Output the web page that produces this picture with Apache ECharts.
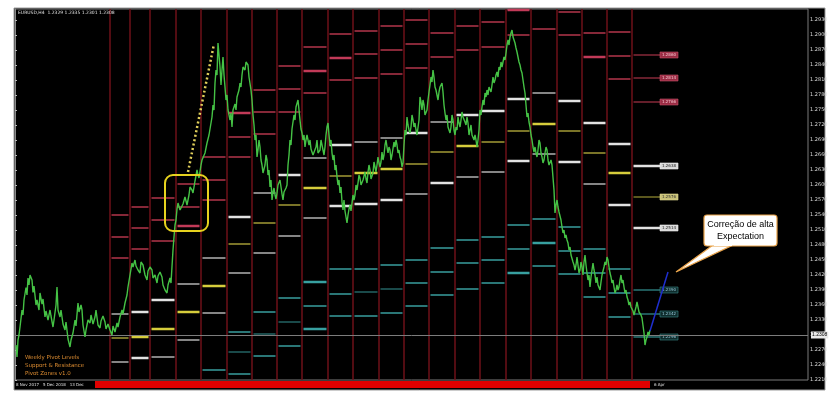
<!DOCTYPE html>
<html><head><meta charset="utf-8">
<script src="https://cdn.jsdelivr.net/npm/echarts@6/dist/echarts.min.js"></script>
<style>html,body{margin:0;padding:0;background:#fff}#c{width:838px;height:400px}</style>
</head><body><div id="c"></div>
<script>
// ---- price path: [bar index, close] ----
const pricePath = [
[1,1.2280],[2,1.2256],[3,1.2290],[4,1.2300],[5,1.2316],[7,1.2350],[8,1.2340],[9,1.2370],[11,1.2395],[12,1.2380],[13,1.2414],[14,1.2400],[15,1.2420],[17,1.2410],[18,1.2385],[19,1.2398],[21,1.2360],[22,1.2370],[24,1.2350],[25,1.2384],[27,1.2362],[28,1.2372],[30,1.2336],[31,1.2348],[33,1.2330],[35,1.2350],[36,1.2338],[38,1.2316],[39,1.2330],[41,1.2360],[42,1.2396],[43,1.2350],[45,1.2336],[46,1.2350],[48,1.2322],[50,1.2310],[51,1.2326],[53,1.2292],[55,1.2276],[56,1.2290],[58,1.2304],[60,1.2330],[61,1.2318],[63,1.2364],[64,1.2346],[66,1.2360],[67,1.2350],[68,1.2320],[70,1.2296],[71,1.2310],[73,1.2330],[75,1.2324],[76,1.2340],[78,1.2322],[80,1.2336],[81,1.2350],[83,1.2320],[85,1.2314],[86,1.2328],[88,1.2338],[90,1.2326],[91,1.2312],[93,1.2322],[95,1.2310],[97,1.2300],[98,1.2318],[100,1.2306],[102,1.2324],[103,1.2316],[105,1.2336],[107,1.2350],[108,1.2342],[110,1.2364],[112,1.2380],[113,1.2396],[115,1.2420],[117,1.2444],[118,1.2436],[120,1.2450],[121,1.2438],[123,1.2430],[125,1.2424],[126,1.2446],[128,1.2440],[130,1.2420],[132,1.2410],[133,1.2428],[135,1.2436],[137,1.2430],[138,1.2414],[140,1.2420],[142,1.2404],[143,1.2418],[145,1.2426],[147,1.2416],[148,1.2400],[150,1.2390],[152,1.2384],[153,1.2400],[155,1.2414],[156,1.2404],[158,1.2470],[159,1.2496],[160,1.2520],[161,1.2530],[162,1.2552],[163,1.2564],[165,1.2550],[167,1.2546],[168,1.2562],[170,1.2576],[171,1.2568],[172,1.2560],[174,1.2580],[175,1.2596],[177,1.2590],[178,1.2584],[180,1.2608],[182,1.2630],[183,1.2620],[184,1.2614],[186,1.2640],[187,1.2650],[189,1.2646],[190,1.2664],[192,1.2684],[194,1.2700],[195,1.2696],[197,1.2736],[198,1.2760],[199,1.2750],[200,1.2804],[201,1.2830],[202,1.2820],[203,1.2884],[204,1.2860],[205,1.2836],[206,1.2800],[207,1.2830],[208,1.2856],[209,1.2820],[210,1.2796],[211,1.2770],[212,1.2780],[213,1.2750],[215,1.2730],[216,1.2744],[217,1.2716],[218,1.2750],[220,1.2762],[221,1.2750],[222,1.2776],[224,1.2790],[225,1.2804],[226,1.2796],[227,1.2820],[228,1.2836],[230,1.2830],[231,1.2846],[232,1.2850],[233,1.2840],[234,1.2816],[236,1.2790],[237,1.2770],[238,1.2740],[239,1.2720],[240,1.2690],[241,1.2700],[242,1.2656],[243,1.2670],[244,1.2690],[245,1.2676],[246,1.2650],[247,1.2640],[248,1.2624],[250,1.2640],[251,1.2660],[252,1.2650],[253,1.2620],[254,1.2630],[255,1.2596],[256,1.2610],[257,1.2570],[258,1.2586],[259,1.2594],[260,1.2580],[261,1.2572],[262,1.2584],[263,1.2600],[265,1.2610],[266,1.2596],[267,1.2582],[268,1.2570],[269,1.2586],[271,1.2594],[272,1.2600],[273,1.2640],[274,1.2660],[275,1.2690],[276,1.2680],[277,1.2712],[279,1.2740],[280,1.2730],[281,1.2756],[283,1.2770],[284,1.2750],[285,1.2730],[286,1.2712],[287,1.2704],[288,1.2690],[289,1.2700],[290,1.2676],[291,1.2690],[292,1.2700],[294,1.2680],[295,1.2690],[296,1.2672],[298,1.2660],[300,1.2656],[301,1.2676],[302,1.2690],[303,1.2664],[305,1.2670],[306,1.2690],[307,1.2680],[309,1.2660],[310,1.2676],[311,1.2700],[312,1.2716],[313,1.2724],[314,1.2700],[315,1.2680],[316,1.2690],[317,1.2664],[318,1.2650],[319,1.2660],[320,1.2630],[321,1.2640],[322,1.2616],[323,1.2600],[324,1.2610],[325,1.2584],[326,1.2596],[327,1.2566],[328,1.2550],[329,1.2570],[330,1.2548],[331,1.2536],[332,1.2524],[333,1.2540],[334,1.2552],[335,1.2560],[336,1.2548],[337,1.2564],[338,1.2580],[339,1.2570],[340,1.2580],[341,1.2600],[342,1.2590],[343,1.2604],[344,1.2620],[345,1.2614],[346,1.2600],[347,1.2596],[348,1.2610],[350,1.2626],[351,1.2612],[352,1.2604],[353,1.2626],[354,1.2640],[355,1.2630],[356,1.2612],[357,1.2618],[358,1.2624],[359,1.2646],[360,1.2636],[361,1.2626],[362,1.2640],[363,1.2656],[364,1.2644],[365,1.2636],[366,1.2646],[367,1.2666],[368,1.2650],[369,1.2660],[370,1.2680],[371,1.2690],[372,1.2676],[373,1.2664],[374,1.2676],[375,1.2670],[376,1.2650],[377,1.2660],[378,1.2664],[379,1.2686],[380,1.2676],[381,1.2690],[382,1.2680],[383,1.2664],[384,1.2670],[385,1.2656],[386,1.2650],[387,1.2636],[388,1.2644],[389,1.2680],[390,1.2710],[391,1.2700],[392,1.2736],[393,1.2720],[394,1.2710],[395,1.2704],[396,1.2716],[397,1.2740],[398,1.2730],[399,1.2716],[400,1.2724],[401,1.2710],[402,1.2700],[403,1.2704],[404,1.2730],[405,1.2776],[406,1.2766],[407,1.2750],[408,1.2770],[409,1.2760],[410,1.2740],[411,1.2736],[412,1.2750],[413,1.2770],[414,1.2786],[415,1.2800],[416,1.2816],[417,1.2806],[418,1.2830],[419,1.2816],[420,1.2796],[421,1.2790],[422,1.2780],[423,1.2770],[424,1.2786],[425,1.2796],[427,1.2804],[428,1.2786],[429,1.2760],[430,1.2744],[431,1.2730],[432,1.2740],[433,1.2716],[434,1.2720],[435,1.2704],[436,1.2716],[437,1.2740],[438,1.2730],[439,1.2710],[440,1.2700],[441,1.2716],[442,1.2710],[443,1.2736],[444,1.2724],[445,1.2716],[446,1.2730],[447,1.2746],[448,1.2736],[449,1.2740],[450,1.2726],[451,1.2720],[452,1.2736],[453,1.2724],[454,1.2700],[455,1.2710],[456,1.2720],[457,1.2700],[458,1.2696],[459,1.2690],[460,1.2700],[461,1.2690],[462,1.2676],[463,1.2690],[464,1.2710],[465,1.2750],[466,1.2740],[467,1.2756],[468,1.2770],[469,1.2760],[470,1.2784],[471,1.2776],[472,1.2790],[473,1.2780],[474,1.2796],[476,1.2786],[477,1.2800],[478,1.2816],[479,1.2804],[480,1.2810],[481,1.2820],[482,1.2826],[483,1.2816],[484,1.2836],[485,1.2830],[486,1.2846],[487,1.2836],[488,1.2846],[489,1.2856],[490,1.2850],[491,1.2864],[492,1.2880],[493,1.2890],[494,1.2880],[495,1.2896],[496,1.2904],[497,1.2910],[498,1.2896],[499,1.2900],[500,1.2884],[501,1.2874],[502,1.2866],[503,1.2856],[504,1.2846],[505,1.2840],[506,1.2830],[507,1.2824],[508,1.2810],[509,1.2796],[510,1.2784],[511,1.2760],[512,1.2736],[513,1.2744],[514,1.2726],[515,1.2716],[516,1.2700],[517,1.2690],[518,1.2676],[519,1.2666],[520,1.2676],[521,1.2664],[522,1.2656],[523,1.2670],[524,1.2690],[525,1.2684],[526,1.2664],[527,1.2656],[528,1.2644],[529,1.2650],[530,1.2664],[531,1.2676],[532,1.2670],[533,1.2650],[534,1.2640],[535,1.2644],[536,1.2650],[537,1.2640],[538,1.2636],[539,1.2590],[540,1.2544],[541,1.2560],[542,1.2570],[543,1.2556],[544,1.2546],[545,1.2550],[546,1.2530],[547,1.2516],[548,1.2504],[549,1.2510],[550,1.2494],[551,1.2500],[552,1.2490],[553,1.2484],[554,1.2470],[555,1.2476],[556,1.2460],[557,1.2456],[558,1.2446],[559,1.2440],[560,1.2430],[561,1.2440],[562,1.2456],[563,1.2440],[564,1.2424],[565,1.2430],[566,1.2446],[567,1.2436],[568,1.2420],[569,1.2446],[570,1.2460],[571,1.2440],[572,1.2424],[573,1.2410],[574,1.2420],[575,1.2396],[576,1.2416],[577,1.2430],[578,1.2444],[579,1.2430],[580,1.2420],[581,1.2404],[582,1.2416],[583,1.2400],[584,1.2396],[585,1.2390],[586,1.2406],[587,1.2420],[588,1.2424],[589,1.2436],[590,1.2446],[591,1.2440],[592,1.2456],[593,1.2450],[594,1.2436],[595,1.2424],[596,1.2416],[597,1.2404],[598,1.2410],[599,1.2396],[600,1.2384],[601,1.2390],[602,1.2400],[603,1.2390],[604,1.2396],[605,1.2410],[606,1.2420],[607,1.2404],[608,1.2410],[609,1.2396],[610,1.2384],[611,1.2390],[612,1.2376],[613,1.2370],[614,1.2360],[615,1.2366],[616,1.2356],[618,1.2348],[619,1.2340],[620,1.2344],[621,1.2356],[622,1.2366],[623,1.2356],[624,1.2346],[625,1.2350],[626,1.2340],[627,1.2334],[628,1.2330],[629,1.2304],[630,1.2280],[631,1.2290],[632,1.2296],[633,1.2306],[634,1.2300],[635,1.2310]
];

// ---- weekly pivot columns ----
const columnEdges = [95,115,135,161,186,212,237,262,287,313,338,364,389,414,440,465,491,516,542,567,592,617];
// level kinds: r = resistance, R = strong resistance, w/g = pivot bands, y/o = central pivot, t/T/d = supports
const columnLevels = [
 [[1.2540,'r'],[1.2496,'r'],[1.2454,'r'],[1.2342,'g'],[1.2294,'o'],[1.2246,'g']],
 [[1.2556,'r'],[1.2514,'r'],[1.2472,'r'],[1.2346,'w'],[1.2296,'y'],[1.2254,'w']],
 [[1.2574,'r'],[1.2530,'r'],[1.2488,'r'],[1.2370,'w'],[1.2312,'y'],[1.2256,'g']],
 [[1.2602,'r'],[1.2556,'r'],[1.2518,'R'],[1.2402,'g'],[1.2346,'y'],[1.2290,'g']],
 [[1.2656,'r'],[1.2610,'r'],[1.2570,'r'],[1.2454,'g'],[1.2398,'y'],[1.2344,'g'],[1.2230,'t']],
 [[1.2744,'R'],[1.2696,'r'],[1.2656,'r'],[1.2536,'w'],[1.2482,'o'],[1.2424,'g'],[1.2306,'t'],[1.2266,'d'],[1.2222,'t']],
 [[1.2790,'r'],[1.2746,'r'],[1.2702,'r'],[1.2584,'g'],[1.2524,'o'],[1.2464,'g'],[1.2346,'t'],[1.2302,'d'],[1.2258,'t']],
 [[1.2838,'r'],[1.2792,'r'],[1.2746,'r'],[1.2620,'w'],[1.2560,'o'],[1.2498,'g'],[1.2374,'t'],[1.2326,'d'],[1.2278,'t']],
 [[1.2876,'r'],[1.2828,'R'],[1.2784,'r'],[1.2654,'g'],[1.2594,'y'],[1.2534,'g'],[1.2406,'T'],[1.2358,'t'],[1.2312,'T']],
 [[1.2902,'r'],[1.2854,'R'],[1.2810,'r'],[1.2680,'w'],[1.2618,'o'],[1.2558,'w'],[1.2432,'t'],[1.2382,'t'],[1.2338,'t']],
 [[1.2908,'r'],[1.2862,'r'],[1.2814,'r'],[1.2686,'g'],[1.2624,'y'],[1.2562,'w'],[1.2432,'t'],[1.2386,'d'],[1.2338,'t']],
 [[1.2918,'r'],[1.2870,'r'],[1.2822,'r'],[1.2694,'g'],[1.2632,'y'],[1.2570,'w'],[1.2440,'t'],[1.2392,'d'],[1.2344,'t']],
 [[1.2930,'r'],[1.2882,'r'],[1.2834,'r'],[1.2704,'w'],[1.2642,'o'],[1.2582,'g'],[1.2450,'t'],[1.2404,'t'],[1.2358,'t']],
 [[1.2904,'r'],[1.2856,'r'],[1.2726,'g'],[1.2666,'o'],[1.2604,'w'],[1.2474,'t'],[1.2426,'t'],[1.2380,'t']],
 [[1.2918,'r'],[1.2870,'r'],[1.2740,'w'],[1.2678,'y'],[1.2616,'g'],[1.2490,'t'],[1.2444,'t'],[1.2392,'t']],
 [[1.2926,'r'],[1.2876,'r'],[1.2748,'w'],[1.2686,'o'],[1.2626,'g'],[1.2496,'t'],[1.2450,'t'],[1.2404,'t']],
 [[1.2950,'R'],[1.2900,'r'],[1.2772,'w'],[1.2708,'o'],[1.2648,'w'],[1.2520,'t'],[1.2472,'t'],[1.2424,'T']],
 [[1.2912,'r'],[1.2784,'g'],[1.2722,'y'],[1.2662,'g'],[1.2532,'t'],[1.2484,'T'],[1.2438,'t']],
 [[1.2946,'r'],[1.2900,'r'],[1.2768,'w'],[1.2708,'o'],[1.2646,'w'],[1.2516,'t'],[1.2468,'t'],[1.2422,'t']],
 [[1.2904,'r'],[1.2856,'R'],[1.2724,'w'],[1.2664,'o'],[1.2602,'g'],[1.2472,'t'],[1.2424,'t'],[1.2376,'t']],
 [[1.2906,'r'],[1.2858,'r'],[1.2812,'r'],[1.2682,'w'],[1.2624,'y'],[1.2560,'w'],[1.2432,'t'],[1.2384,'t'],[1.2336,'t']]
];
const currentSpan = [617, 645];
const currentLevels = [[1.2860,'r'],[1.2814,'r'],[1.2766,'r'],[1.2638,'w'],[1.2576,'o'],[1.2514,'w'],[1.2390,'t'],[1.2342,'t'],[1.2296,'t']];
const lastPrice = 1.2308;
const impulseBars = [173, 199];
const impulseValues = [1.2626, 1.2882];
const projectionBars = [635, 653];
const projectionValues = [1.2308, 1.2426];
const focusBox = [150, 193, 1.2508, 1.2620];
const yMin = 1.221, yMax = 1.2952, yStep = 0.003, xMax = 793;
const calloutLines = ['Correção de alta', 'Expectation'];
const infoLines = ['Weekly Pivot Levels', 'Support & Resistance', 'Pivot Zones v1.0'];

// ---- styles ----
const kindStyle = {
  r:{c:'#862838',w:2}, R:{c:'#c23a58',w:2.5},
  w:{c:'#e2e2e2',w:2.5}, g:{c:'#858585',w:2},
  y:{c:'#d6cd3c',w:2.5}, o:{c:'#7a7428',w:2},
  t:{c:'#2a7676',w:2}, T:{c:'#38a0a0',w:2.5}, d:{c:'#1a4a4a',w:2}
};
const boxStyle = {
  r:{f:'#9a2c44',s:'#c85068',t:'#f6c6cf'}, w:{f:'#d8d8d8',s:'#f0f0f0',t:'#222'},
  o:{f:'#c8c078',s:'#e0d890',t:'#333'}, t:{f:'#0f2c2c',s:'#3a8a8a',t:'#9cd'}
};

const levelRows = [], levelKinds = [];
columnLevels.forEach((lv, i) => lv.forEach(([p, k]) => {
  levelRows.push([columnEdges[i], columnEdges[i + 1], p]); levelKinds.push(k);
}));
const curRows = currentLevels.map(([p]) => [currentSpan[0], currentSpan[1], p]);

const chart = echarts.init(document.getElementById('c'), null, {renderer:'canvas'});
chart.setOption({
  animation:false,
  backgroundColor:'#fff',
  grid:{left:15, right:30, top:9, bottom:20, show:true, borderColor:'#7a7a7a', borderWidth:1, backgroundColor:'transparent'},
  xAxis:{type:'value', min:0, max:xMax, show:false},
  yAxis:{type:'value', position:'right', min:yMin, max:yMax, interval:yStep, scale:true,
    axisLine:{show:true, lineStyle:{color:'#8a8a8a'}},
    axisTick:{show:true, length:2, lineStyle:{color:'#bbb'}},
    splitLine:{show:false},
    axisLabel:{fontSize:5, color:'#dcdcdc', margin:2, showMaxLabel:false, fontFamily:'DejaVu Sans',
      formatter:v => v.toFixed(4)}},
  graphic:[
    {type:'rect', z:-100, shape:{x:14, y:8, width:811, height:382}, style:{fill:'#000', stroke:'#9a9a9a', lineWidth:1}},
    {type:'text', z:50, x:18, y:10, style:{text:'EURUSD,H4  1.2329 1.2335 1.2301 1.2308', fill:'#e0e0e0', fontSize:4.5, fontFamily:'DejaVu Sans'}},
    {type:'rect', z:50, shape:{x:95, y:381, width:555, height:7}, style:{fill:'#e00000'}},
    {type:'text', z:50, x:16, y:382.5, style:{text:'8 Nov 2017   5 Dec 2018   13 Dec', fill:'#e0e0e0', fontSize:4, fontFamily:'DejaVu Sans'}},
    {type:'text', z:50, x:654, y:382.5, style:{text:'6 Apr', fill:'#e0e0e0', fontSize:4, fontFamily:'DejaVu Sans'}},
    {type:'text', z:50, x:25, y:354, style:{text:infoLines.join('\n'), fill:'#d98a30', fontSize:5.5, lineHeight:8, fontFamily:'DejaVu Sans'}},
    {type:'group', z:100, children:[
      {type:'polygon', shape:{points:[[713,245],[676,272],[733,245]]}, style:{fill:'#fff', stroke:'#e9a34a', lineWidth:1.2}},
      {type:'rect', shape:{x:704, y:215, width:73, height:31, r:3}, style:{fill:'#fff', stroke:'#e9a34a', lineWidth:1.2}},
      {type:'rect', shape:{x:714, y:243, width:18, height:3}, style:{fill:'#fff'}},
      {type:'text', x:740.5, y:219, style:{text:calloutLines.join('\n'), fill:'#000', fontSize:9, lineHeight:12, align:'center', fontFamily:'Liberation Sans'}}
    ]}
  ],
  series:[
    {type:'custom', name:'levels', z:2, encode:{x:[0,1], y:2}, data:levelRows,
      renderItem:(params, api) => {
        const a = api.coord([api.value(0), api.value(2)]), b = api.coord([api.value(1), api.value(2)]);
        const st = kindStyle[levelKinds[params.dataIndex]];
        return {type:'line', shape:{x1:a[0]+1.5, y1:a[1], x2:b[0]-1.5, y2:b[1]}, style:{stroke:st.c, lineWidth:st.w}};
      },
      markLine:{silent:true, symbol:['none','none'], label:{show:false},
        lineStyle:{color:'#6e1019', width:1.5, type:'solid'},
        data:columnEdges.map(v => ({xAxis:v}))}
    },
    {type:'custom', name:'current', z:3, encode:{x:[0,1], y:2}, data:curRows,
      renderItem:(params, api) => {
        const p = api.value(2);
        const a = api.coord([api.value(0), p]), b = api.coord([api.value(1), p]);
        const k = currentLevels[params.dataIndex][1];
        const st = kindStyle[k], bx = boxStyle[k];
        return {type:'group', children:[
          {type:'line', shape:{x1:a[0]+1.5, y1:a[1], x2:b[0], y2:b[1]}, style:{stroke:st.c, lineWidth:st.w === 2.5 ? 2.5 : 1.5}},
          {type:'rect', shape:{x:b[0], y:b[1]-3, width:18, height:6}, style:{fill:bx.f, stroke:bx.s, lineWidth:0.6}},
          {type:'text', x:b[0]+9, y:b[1], style:{text:p.toFixed(4), fill:bx.t, fontSize:4, align:'center', verticalAlign:'middle', fontFamily:'DejaVu Sans'}}
        ]};
      }
    },
    {type:'custom', name:'focus', z:6, encode:{x:[0,1], y:[2,3]}, data:[focusBox],
      renderItem:(params, api) => {
        const a = api.coord([api.value(0), api.value(3)]), b = api.coord([api.value(1), api.value(2)]);
        return {type:'rect', shape:{x:a[0], y:a[1], width:b[0]-a[0], height:b[1]-a[1], r:8}, style:{fill:'none', stroke:'#e6d21e', lineWidth:2}};
      }
    },
    {type:'line', name:'price', z:5, data:pricePath, symbol:'none',
      lineStyle:{color:'#45c245', width:1.4},
      markLine:{silent:true, symbol:['none','none'], lineStyle:{color:'#7c7c7c', width:1, type:'solid'},
        label:{show:true, position:'end', distance:3, formatter:lastPrice.toFixed(4), fontSize:5, color:'#000', backgroundColor:'#e8e8e8', padding:[1,1]},
        data:[{yAxis:lastPrice}]}
    },
    {type:'line', name:'impulse', z:6, data:impulseBars.map((b, i) => [b, impulseValues[i]]), symbol:'none',
      lineStyle:{color:'#e0cf5a', width:2.5, type:[2,2.5]}},
    {type:'line', name:'projection', z:6, data:projectionBars.map((b, i) => [b, projectionValues[i]]), symbol:'none',
      lineStyle:{color:'#1f2fd0', width:1.5}}
  ]
});
</script></body></html>
